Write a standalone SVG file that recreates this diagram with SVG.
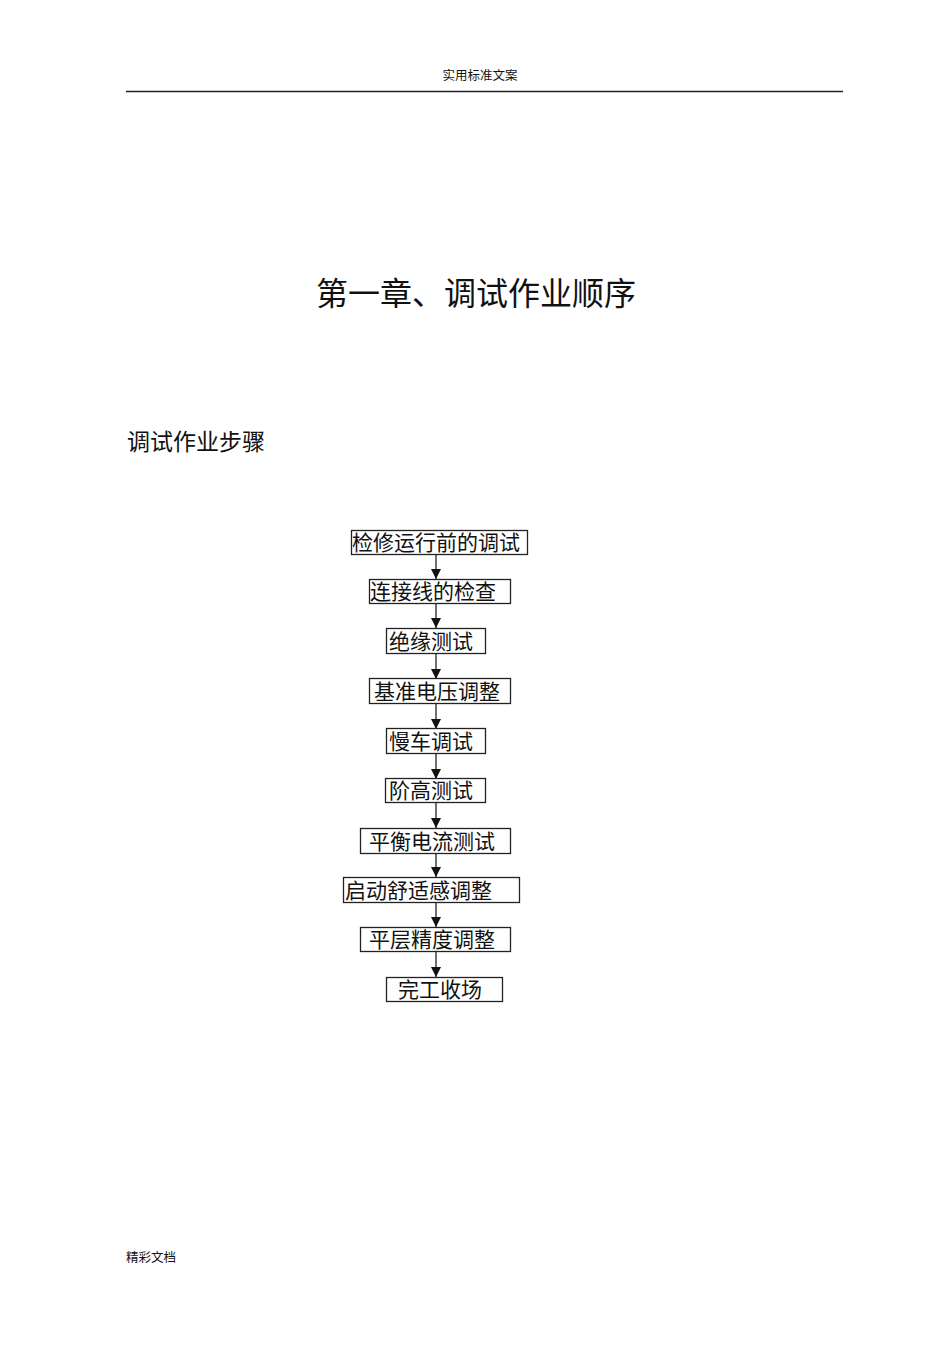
<svg xmlns="http://www.w3.org/2000/svg" width="950" height="1345" viewBox="0 0 950 1345">
<defs>
<style>
text{font-family:"Noto Sans CJK SC","Noto Sans CJK JP",sans-serif;fill:#111;}
.box rect{fill:#fff;stroke:#222;stroke-width:1.3;}
.box text{font-size:21px;}
.conn line{stroke:#222;stroke-width:1.3;}
</style>
<marker id="ah" viewBox="0 0 10 10" refX="10" refY="5" markerWidth="11" markerHeight="10" markerUnits="userSpaceOnUse" orient="auto">
<path d="M0,0 L10,5 L0,10 z" fill="#111"/>
</marker>
</defs>
<rect width="950" height="1345" fill="#fff"/>
<text x="480" y="80" font-size="12.5" text-anchor="middle">实用标准文案</text>
<line x1="126" y1="91.5" x2="843" y2="91.5" stroke="#222" stroke-width="1.3"/>
<text x="476" y="305" font-size="32" text-anchor="middle">第一章、调试作业顺序</text>
<text x="127" y="450" font-size="23">调试作业步骤</text>
<text x="126" y="1262" font-size="12.5">精彩文档</text>
<g class="conn">
<line x1="436" y1="554" x2="436" y2="579" marker-end="url(#ah)"/>
<line x1="436" y1="603" x2="436" y2="628" marker-end="url(#ah)"/>
<line x1="436" y1="654" x2="436" y2="679" marker-end="url(#ah)"/>
<line x1="436" y1="703" x2="436" y2="729" marker-end="url(#ah)"/>
<line x1="436" y1="753" x2="436" y2="779" marker-end="url(#ah)"/>
<line x1="436" y1="802" x2="436" y2="828" marker-end="url(#ah)"/>
<line x1="436" y1="853" x2="436" y2="877" marker-end="url(#ah)"/>
<line x1="436" y1="902" x2="436" y2="927" marker-end="url(#ah)"/>
<line x1="436" y1="951" x2="436" y2="977" marker-end="url(#ah)"/>
</g>
<g id="n1" class="box"><rect x="351.5" y="530.5" width="176" height="24"/><text x="352" y="550">检修运行前的调试</text></g>
<g id="n2" class="box"><rect x="369.5" y="579.5" width="141" height="24"/><text x="370" y="599">连接线的检查</text></g>
<g id="n3" class="box"><rect x="386.5" y="628.5" width="99" height="25"/><text x="389" y="649">绝缘测试</text></g>
<g id="n4" class="box"><rect x="369.5" y="678.5" width="141" height="25"/><text x="374" y="699">基准电压调整</text></g>
<g id="n5" class="box"><rect x="386.5" y="728.5" width="99" height="25"/><text x="389" y="749">慢车调试</text></g>
<g id="n6" class="box"><rect x="385.5" y="778.5" width="100" height="24"/><text x="389" y="798">阶高测试</text></g>
<g id="n7" class="box"><rect x="360.5" y="828.5" width="150" height="25"/><text x="369" y="849">平衡电流测试</text></g>
<g id="n8" class="box"><rect x="343.5" y="877.5" width="176" height="25"/><text x="345" y="898">启动舒适感调整</text></g>
<g id="n9" class="box"><rect x="360.5" y="927.5" width="150" height="24"/><text x="369" y="947">平层精度调整</text></g>
<g id="n10" class="box"><rect x="386.5" y="977.5" width="116" height="24"/><text x="398" y="997">完工收场</text></g>
</svg>
